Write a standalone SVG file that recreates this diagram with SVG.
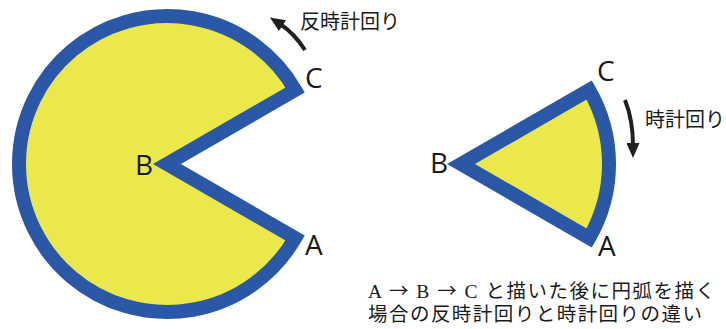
<svg xmlns="http://www.w3.org/2000/svg" width="726" height="329" viewBox="0 0 726 329">
<style>
.shape{fill:#EBE84B;stroke:#2B57A7;stroke-width:14;stroke-linejoin:miter;stroke-miterlimit:10}
.lbl{font-family:"Open Sans","Noto Sans",sans-serif;font-size:28px;fill:#1a1a1a}
.jp{font-family:"Noto Sans CJK JP",sans-serif;font-size:20px;fill:#1a1a1a}
.cap{font-family:"Liberation Serif","Noto Sans CJK JP",serif;font-size:19.5px;fill:#1a1a1a}
.ar{font-family:"Noto Sans CJK JP","DejaVu Sans",sans-serif}
.arr{fill:none;stroke:#231F20;stroke-width:4}
</style>
<defs>
<marker id="ah" markerUnits="userSpaceOnUse" markerWidth="15" markerHeight="13" viewBox="0 0 15 13" refX="3" refY="6.5" orient="auto">
<path d="M0,0 L15,6.5 L0,13 Z" fill="#231F20"/>
</marker>
</defs>
<g id="pacman-ccw">
<path class="shape" d="M295.17 238 L167 164 L295.17 90 A148 148 0 1 0 295.17 238 Z"/>
<text class="lbl" x="135" y="175">B</text>
<text class="lbl" x="305" y="88">C</text>
<text class="lbl" x="305" y="255">A</text>
</g>
<g id="wedge-cw">
<path class="shape" d="M589.17 238 L461 164 L589.17 90 A148 148 0 0 1 589.17 238 Z"/>
<text class="lbl" x="430" y="173">B</text>
<text class="lbl" x="597" y="81">C</text>
<text class="lbl" x="598" y="256">A</text>
</g>
<g id="connectors">
<path class="arr" d="M305 50 Q294 33 280 24" marker-end="url(#ah)"/>
<path class="arr" d="M625 100 Q633 120 633 146" marker-end="url(#ah)"/>
</g>
<g id="labels">
<text class="jp" x="300" y="29">反時計回り</text>
<text class="jp" x="645" y="127">時計回り</text>
</g>
<g id="caption">
<text class="cap" x="368" y="298" textLength="347" lengthAdjust="spacing">A <tspan class="ar">→</tspan> B <tspan class="ar">→</tspan> C と描いた後に円弧を描く</text>
<text class="cap" x="368" y="321" textLength="334" lengthAdjust="spacing">場合の反時計回りと時計回りの違い</text>
</g>
</svg>
